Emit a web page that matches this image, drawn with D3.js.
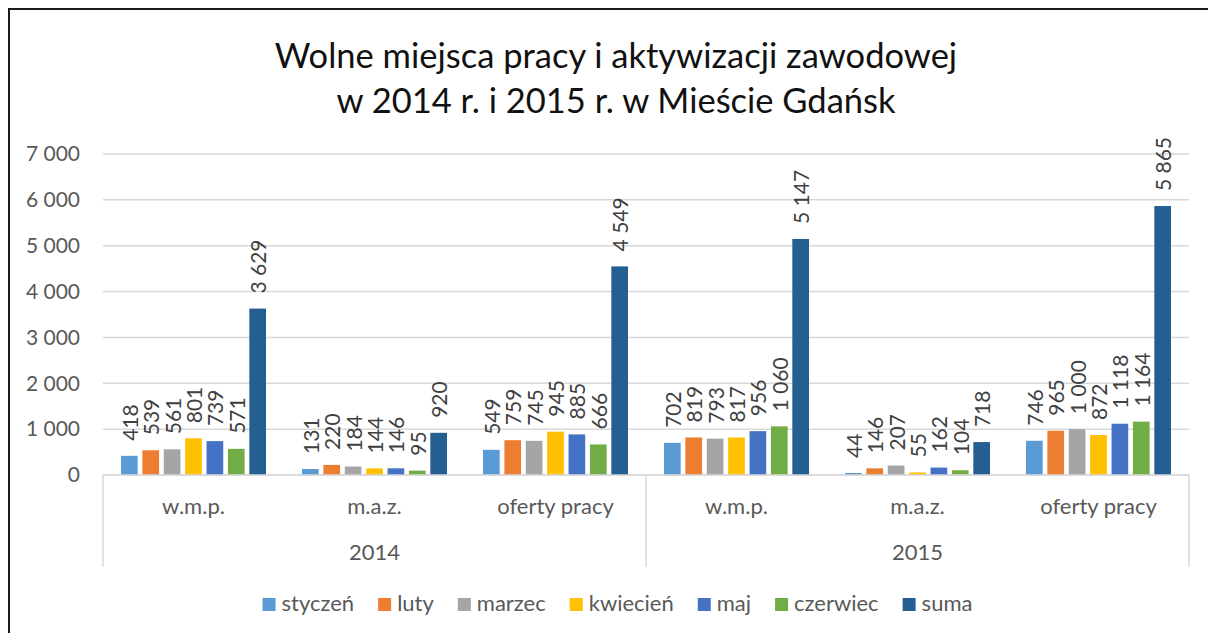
<!DOCTYPE html>
<html>
<head>
<meta charset="utf-8">
<script src="https://cdn.jsdelivr.net/npm/d3@7"></script>
<style>
  body { margin: 0; background: white; }
  text { font-family: Lato, "Open Sans", sans-serif; }
</style>
</head>
<body>
<div id="chart"></div>
<script>
// data
const years = ["2014", "2015"];
const kinds = ["w.m.p.", "m.a.z.", "oferty pracy"];
const categories = ["2014|w.m.p.", "2014|m.a.z.", "2014|oferty pracy", "2015|w.m.p.", "2015|m.a.z.", "2015|oferty pracy"];
const seriesNames = ["styczeń", "luty", "marzec", "kwiecień", "maj", "czerwiec", "suma"];
const styczen = [418, 131, 549, 702, 44, 746];
const luty = [539, 220, 759, 819, 146, 965];
const marzec = [561, 184, 745, 793, 207, 1000];
const kwiecien = [801, 144, 945, 817, 55, 872];
const maj = [739, 146, 885, 956, 162, 1118];
const czerwiec = [571, 95, 666, 1060, 104, 1164];
const suma = [3629, 920, 4549, 5147, 718, 5865];
const yTicks = [0, 1000, 2000, 3000, 4000, 5000, 6000, 7000];

const seriesValues = [styczen, luty, marzec, kwiecien, maj, czerwiec, suma];
const colors = ["#5B9BD5", "#ED7D31", "#A5A5A5", "#FFC000", "#4472C4", "#70AD47", "#255E91"];

const W = 1208, H = 633;
const plot = {left: 103, right: 1189, top: 154, bottom: 475};

const fmt = (v) => d3.format(",")(v).replace(/,/g, " ");

let svg = d3.select("#chart").append("svg")
  .attr("width", W)
  .attr("height", H);

svg.append("rect").attr("width", W).attr("height", H).attr("fill", "white");

// chart frame (top and left edges visible)
svg.append("path")
  .attr("d", `M9,${H} L9,9 L${W},9`)
  .attr("fill", "none")
  .attr("stroke", "#1a1a1a")
  .attr("stroke-width", 2);

// title
const title = svg.append("text")
  .attr("x", 616)
  .attr("text-anchor", "middle")
  .attr("fill", "#111")
  .style("font-size", "34.5px");
title.append("tspan").attr("x", 616).attr("y", 68).text("Wolne miejsca pracy i aktywizacji zawodowej");
title.append("tspan").attr("x", 616).attr("y", 113).text("w 2014 r. i 2015 r. w Mieście Gdańsk");

let y = d3.scaleLinear().domain([0, 7000]).range([plot.bottom, plot.top]);

let x0 = d3.scaleBand()
  .domain(categories)
  .range([plot.left, plot.right])
  .padding(0);

let x1 = d3.scaleBand()
  .domain(seriesNames)
  .range([18, x0.bandwidth() - 18])
  .paddingInner(0.22)
  .paddingOuter(0);

// gridlines
svg.append("g")
  .selectAll("line")
  .data(yTicks)
  .enter()
  .append("line")
  .attr("x1", plot.left)
  .attr("x2", plot.right)
  .attr("y1", (d) => y(d))
  .attr("y2", (d) => y(d))
  .attr("stroke", "#D9D9D9")
  .attr("stroke-width", 1.5);

// y axis labels
let yAxis = d3.axisLeft(y).tickValues(yTicks).tickFormat(fmt).tickSize(0).tickPadding(0);
let yg = svg.append("g")
  .attr("transform", `translate(80,0)`)
  .call(yAxis);
yg.select(".domain").remove();
yg.selectAll("text")
  .attr("fill", "#595959")
  .style("font-size", "21px")
  .style("font-family", "Lato, sans-serif");

// bars
let groups = svg.append("g")
  .selectAll("g")
  .data(categories)
  .enter()
  .append("g")
  .attr("transform", (d) => `translate(${x0(d)},0)`);

groups.selectAll("rect")
  .data((d, i) => seriesNames.map((s, k) => ({s: s, v: seriesValues[k][i], c: colors[k]})))
  .enter()
  .append("rect")
  .attr("x", (d) => x1(d.s))
  .attr("width", x1.bandwidth())
  .attr("y", (d) => y(d.v))
  .attr("height", (d) => y(0) - y(d.v))
  .attr("fill", (d) => d.c);

groups.selectAll("text")
  .data((d, i) => seriesNames.map((s, k) => ({s: s, v: seriesValues[k][i]})))
  .enter()
  .append("text")
  .attr("transform", (d) => `translate(${x1(d.s) + x1.bandwidth() / 2},${y(d.v) - 15}) rotate(-90)`)
  .attr("dominant-baseline", "central")
  .attr("fill", "#404040")
  .style("font-size", "21px")
  .text((d) => fmt(d.v));

// category axis (two levels)
svg.append("line")
  .attr("x1", plot.left).attr("x2", plot.right)
  .attr("y1", plot.bottom).attr("y2", plot.bottom)
  .attr("stroke", "#D9D9D9").attr("stroke-width", 1.5);

let yearScale = d3.scaleBand().domain(years).range([plot.left, plot.right]);
let seps = [plot.left, yearScale("2015"), plot.right];
svg.append("g")
  .selectAll("line")
  .data(seps)
  .enter()
  .append("line")
  .attr("x1", (d) => d).attr("x2", (d) => d)
  .attr("y1", plot.bottom).attr("y2", 567)
  .attr("stroke", "#D9D9D9").attr("stroke-width", 1.5);

svg.append("g")
  .selectAll("text")
  .data(categories)
  .enter()
  .append("text")
  .attr("x", (d) => x0(d) + x0.bandwidth() / 2)
  .attr("y", 514)
  .attr("text-anchor", "middle")
  .attr("fill", "#595959")
  .style("font-size", "22px")
  .text((d) => d.split("|")[1]);

svg.append("g")
  .selectAll("text")
  .data(years)
  .enter()
  .append("text")
  .attr("x", (d) => yearScale(d) + yearScale.bandwidth() / 2)
  .attr("y", 560)
  .attr("text-anchor", "middle")
  .attr("fill", "#595959")
  .style("font-size", "22px")
  .text((d) => d);

// legend
let legend = svg.append("g");
let items = legend.selectAll("g")
  .data(seriesNames)
  .enter()
  .append("g");
items.append("rect")
  .attr("width", 13).attr("height", 13)
  .attr("y", 598)
  .attr("fill", (d, i) => colors[i]);
items.append("text")
  .attr("x", 19)
  .attr("y", 611)
  .attr("fill", "#595959")
  .style("font-size", "22px")
  .text((d) => d);

let pos = 0;
items.each(function () {
  const w = d3.select(this).select("text").node().getComputedTextLength();
  d3.select(this).attr("transform", `translate(${pos},0)`);
  pos += 19 + w + 24;
});
const total = pos - 24;
legend.attr("transform", `translate(${617.5 - total / 2},0)`);
</script>
</body>
</html>
